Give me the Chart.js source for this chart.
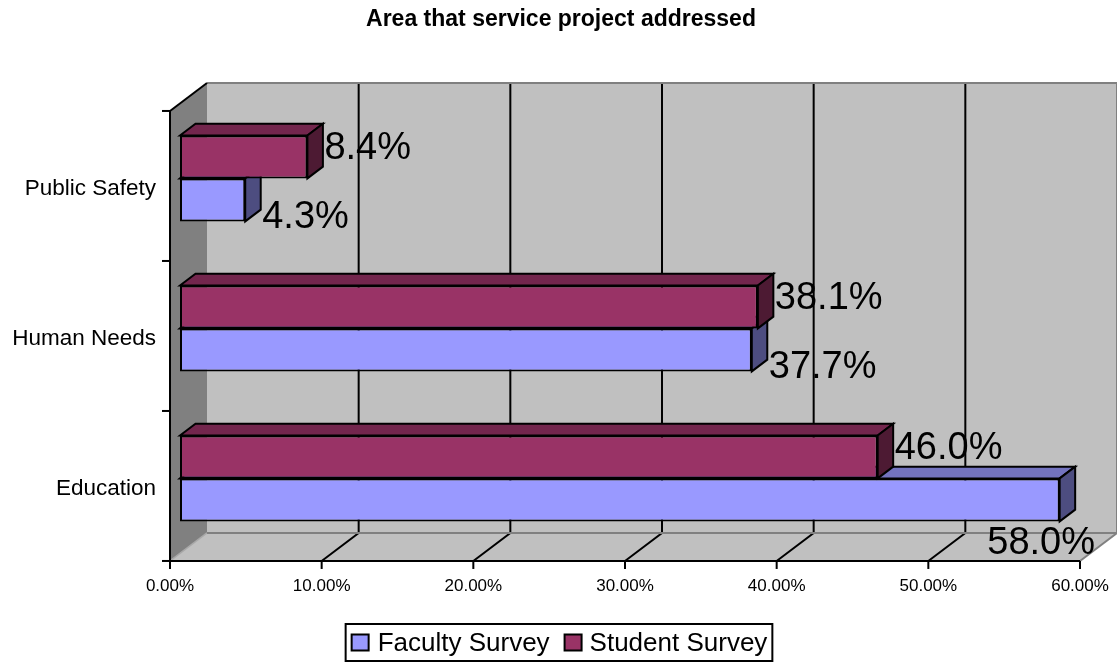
<!DOCTYPE html>
<html>
<head>
<meta charset="utf-8">
<script src="https://cdn.jsdelivr.net/npm/chart.js@4/dist/chart.umd.min.js"></script>
<style>
  body { margin: 0; background: #fff; }
</style>
</head>
<body>
<canvas id="grafico" width="1117" height="664"></canvas>
<script>
// categorias e valores (%)
const categorias = ["Public Safety", "Human Needs", "Education"];
const facultySurvey = [4.3, 37.7, 58.0];
const studentSurvey = [8.4, 38.1, 46.0];
const ticksX = [0, 10, 20, 30, 40, 50, 60];

const titulo = "Area that service project addressed";
const FONTE = "Arial, 'Liberation Sans', sans-serif";

// profundidade da caixa 3D (parede de fundo em relação ao plano da frente)
const WALL_DX = 37, WALL_DY = -28;
const BAR_Z = 10 / 37;       // plano da face frontal das barras
const BAR_DEPTH = 15.5 / 37; // espessura das barras
const offX = WALL_DX * BAR_Z, offY = WALL_DY * BAR_Z;

const cores = {
  "Faculty Survey": { frente: "#9999FF", topo: "#7373BF", lado: "#4D4D80" },
  "Student Survey": { frente: "#993366", topo: "#73264D", lado: "#4D1A33" },
};

function poligono(ctx, pts, fill, stroke, lw) {
  ctx.beginPath();
  ctx.moveTo(pts[0][0], pts[0][1]);
  for (let i = 1; i < pts.length; i++) ctx.lineTo(pts[i][0], pts[i][1]);
  ctx.closePath();
  if (fill) { ctx.fillStyle = fill; ctx.fill(); }
  if (stroke) { ctx.strokeStyle = stroke; ctx.lineWidth = lw || 2; ctx.stroke(); }
}

function linha(ctx, x1, y1, x2, y2, cor, lw) {
  ctx.beginPath();
  ctx.moveTo(x1, y1);
  ctx.lineTo(x2, y2);
  ctx.strokeStyle = cor;
  ctx.lineWidth = lw || 2;
  ctx.stroke();
}

// retângulo do plano da frente (eixos)
function planoFrente(chart) {
  const a = chart.chartArea;
  return { L: a.left - offX, R: a.right - offX, T: a.top - offY, B: a.bottom - offY };
}

const caixa3D = {
  id: "caixa3D",
  beforeDatasetsDraw(chart) {
    const ctx = chart.ctx;
    const escX = chart.scales.x;
    const { L, R, T, B } = planoFrente(chart);
    const bL = L + WALL_DX, bR = R + WALL_DX, bT = T + WALL_DY, bB = B + WALL_DY;

    ctx.save();
    // parede de fundo, parede lateral e piso
    poligono(ctx, [[bL, bT], [bR, bT], [bR, bB], [bL, bB]], "#C0C0C0");
    poligono(ctx, [[L, T], [bL, bT], [bL, bB], [L, B]], "#808080");
    poligono(ctx, [[L, B], [R, B], [bR, bB], [bL, bB]], "#C0C0C0");
    linha(ctx, L, B, bL, bB, "#A8A8A8", 1.5);

    // linhas de grade: na parede e descendo pelo piso
    ticksX.forEach((v) => {
      if (v === ticksX[0] || v === ticksX[ticksX.length - 1]) return;
      const px = escX.getPixelForValue(v) - offX;
      ctx.beginPath();
      ctx.moveTo(px + WALL_DX, bT);
      ctx.lineTo(px + WALL_DX, bB);
      ctx.lineTo(px, B);
      ctx.strokeStyle = "#000";
      ctx.lineWidth = 2;
      ctx.stroke();
    });

    // bordas cinzas da caixa
    linha(ctx, bL, bT, bR, bT, "#808080");
    linha(ctx, bR, bT, bR, bB, "#808080");
    linha(ctx, bL, bB, bR, bB, "#808080");
    linha(ctx, bR, bB, R, B, "#808080");
    linha(ctx, L, T, bL, bT, "#000");

    // faces de topo e lateral das barras (faculty primeiro, student por cima)
    const dx = WALL_DX * BAR_DEPTH, dy = WALL_DY * BAR_DEPTH;
    for (let d = chart.data.datasets.length - 1; d >= 0; d--) {
      const ds = chart.data.datasets[d];
      const c = cores[ds.label];
      chart.getDatasetMeta(d).data.forEach((el) => {
        const p = el.getProps(["x", "y", "base", "height"], true);
        const topo = p.y - p.height / 2, baixo = p.y + p.height / 2;
        poligono(ctx, [[p.base, topo], [p.base + dx, topo + dy], [p.x + dx, topo + dy], [p.x, topo]], c.topo, "#000", 2);
        poligono(ctx, [[p.x, topo], [p.x + dx, topo + dy], [p.x + dx, baixo + dy], [p.x, baixo]], c.lado, "#000", 2);
      });
    }
    ctx.restore();
  },

  afterDatasetsDraw(chart) {
    const ctx = chart.ctx;
    const escX = chart.scales.x, escY = chart.scales.y;
    const { L, R, T, B } = planoFrente(chart);
    ctx.save();

    // eixo Y com marcas entre as categorias
    linha(ctx, L, T, L, B, "#000");
    const faixa = (chart.chartArea.bottom - chart.chartArea.top) / categorias.length;
    for (let i = 0; i <= categorias.length; i++) {
      const yy = T + faixa * i;
      linha(ctx, L - 8, yy, L, yy, "#000");
    }
    // eixo X
    linha(ctx, L, B, R, B, "#000");
    ctx.fillStyle = "#000";
    ctx.font = "17px " + FONTE;
    ctx.textAlign = "center";
    ctx.textBaseline = "middle";
    ticksX.forEach((v) => {
      const px = escX.getPixelForValue(v) - offX;
      linha(ctx, px, B, px, B + 8, "#000");
      ctx.fillText(v.toFixed(2) + "%", px, B + 25);
    });

    // nomes das categorias
    ctx.font = "22.5px " + FONTE;
    ctx.textAlign = "right";
    categorias.forEach((nome, i) => {
      ctx.fillText(nome, L - 14, escY.getPixelForValue(i) - offY + 3);
    });

    // rótulos de valor
    ctx.font = "38px " + FONTE;
    ctx.textAlign = "left";
    const limite = chart.chartArea.right + (WALL_DX - offX) - 22;
    chart.data.datasets.forEach((ds, d) => {
      chart.getDatasetMeta(d).data.forEach((el, j) => {
        const p = el.getProps(["x", "y", "height"], true);
        const texto = ds.data[j].toFixed(1) + "%";
        const w = ctx.measureText(texto).width;
        let lx = p.x + 17;
        let ly = ds.label === "Student Survey" ? p.y - p.height * 0.2 : p.y + p.height * 0.42;
        if (lx + w > limite) {
          lx = limite - w;
          ly = p.y + p.height / 2 + 22;
        }
        ctx.fillText(texto, lx, ly);
      });
    });
    ctx.restore();
  },

  afterDraw(chart) {
    const ctx = chart.ctx;
    ctx.save();
    // título
    ctx.fillStyle = "#000";
    ctx.font = "bold 23px " + FONTE;
    ctx.textAlign = "center";
    ctx.textBaseline = "middle";
    ctx.fillText(titulo, 561, 20);

    // legenda com moldura
    ctx.font = "26px " + FONTE;
    ctx.textAlign = "left";
    const itens = ["Faculty Survey", "Student Survey"];
    const larguras = itens.map((t) => ctx.measureText(t).width);
    const total = 6 + 18 + 8 + larguras[0] + 15 + 18 + 7 + larguras[1] + 5;
    const x0 = 559 - total / 2, yTop = 624, yBot = 661;
    ctx.strokeStyle = "#000";
    ctx.lineWidth = 2;
    ctx.strokeRect(x0, yTop, total, yBot - yTop);
    let cx = x0 + 6;
    const cy = (yTop + yBot) / 2;
    itens.forEach((t, i) => {
      ctx.fillStyle = cores[t].frente;
      ctx.fillRect(cx, cy - 8, 17, 16);
      ctx.strokeRect(cx, cy - 8, 17, 16);
      cx += 18 + (i === 0 ? 8 : 7);
      ctx.fillStyle = "#000";
      ctx.fillText(t, cx, cy + 1);
      cx += larguras[i] + 15;
    });
    ctx.restore();
  },
};

const config = {
  type: "bar",
  data: {
    labels: categorias,
    datasets: [
      {
        label: "Student Survey",
        data: studentSurvey,
        backgroundColor: cores["Student Survey"].frente,
        borderColor: "#000",
        borderWidth: 2,
        borderSkipped: false,
      },
      {
        label: "Faculty Survey",
        data: facultySurvey,
        backgroundColor: cores["Faculty Survey"].frente,
        borderColor: "#000",
        borderWidth: 2,
        borderSkipped: false,
      },
    ],
  },
  options: {
    indexAxis: "y",
    responsive: false,
    animation: false,
    categoryPercentage: 0.573,
    barPercentage: 1,
    layout: { padding: { left: 180, right: 27, top: 103.4, bottom: 110.6 } },
    scales: {
      x: { type: "linear", min: 0, max: 60, display: false },
      y: { display: false },
    },
    plugins: {
      legend: { display: false },
      title: { display: false },
      tooltip: { enabled: false },
    },
  },
  plugins: [caixa3D],
};

new Chart(document.getElementById("grafico"), config);
</script>
</body>
</html>
